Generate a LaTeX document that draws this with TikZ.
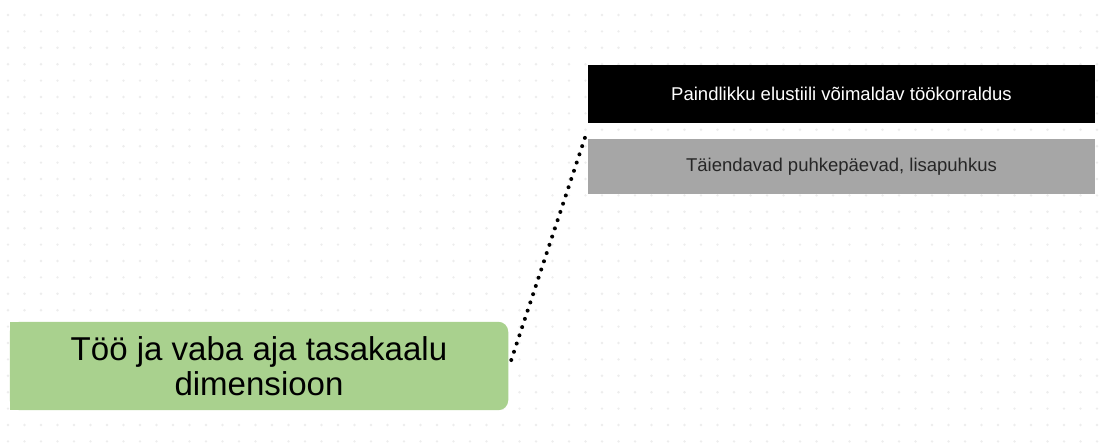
\documentclass[tikz,border=0pt]{standalone}
\usepackage{fontspec}
\setmainfont{Liberation Sans}
\usetikzlibrary{calc,backgrounds}
\definecolor{leafgreen}{HTML}{A9D18E}
\definecolor{boxgray}{HTML}{A6A6A6}
\definecolor{gridgray}{HTML}{EDEDED}
\begin{document}
\begin{tikzpicture}[x=0.03cm,y=-0.03cm,
  topicbox/.style={rectangle, inner sep=0pt, minimum width=14.94cm, minimum height=2.64cm,
    align=center, text=black, font=\fontsize{28.2pt}{30pt}\selectfont},
  itembox/.style={rectangle, inner sep=0pt, minimum width=15.21cm,
    align=center, font=\fontsize{15.8pt}{18pt}\selectfont},
  conn/.style={line width=0.12cm, line cap=round, dash pattern=on 0pt off 0.26cm, black}]
  \useasboundingbox (0,0) rectangle (1102,444);
  % main topic
  \node[topicbox] (g) at (259,366) {Töö ja vaba aja tasakaalu\\dimensioon};
  \begin{scope}[on background layer]
    % canvas and faint dot grid
    \fill[white] (0,0) rectangle (1102,444);
    \foreach \gx in {0,...,66}{
      \foreach \gy in {0,...,26}{
        \fill[gridgray] ({8+16.5*\gx},{15+16.4*\gy}) circle (0.04cm);
      }
    }
    % topic fill: rounded on the right, square on the left
    \fill[leafgreen, rounded corners=0.3cm] (g.north west) rectangle (g.south east);
    \fill[leafgreen] (g.north west) rectangle (g.south);
  \end{scope}
  % sub-topics
  \node[itembox, fill=black, text=white, minimum height=1.74cm] (b) at (841.5,94)
    {Paindlikku elustiili võimaldav töökorraldus};
  \node[itembox, fill=boxgray, text=black!85, minimum height=1.65cm] (s) at (841.5,166.5)
    {Täiendavad puhkepäevad, lisapuhkus};
  % connector
  \draw[conn] ($(g.east)+(3,-6)$) -- ($(b.south west)+(-1,9)$);
\end{tikzpicture}
\end{document}
